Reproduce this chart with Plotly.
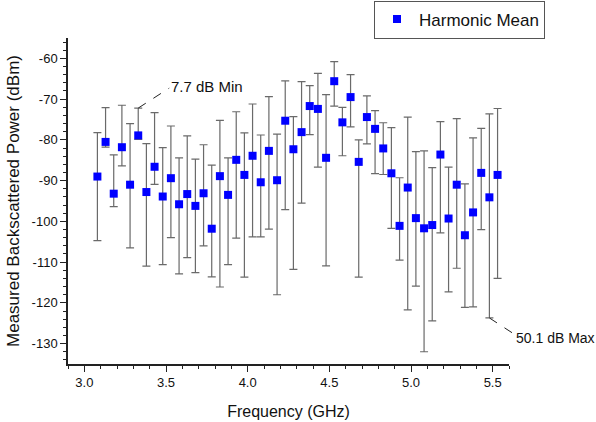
import plotly.graph_objects as go

freq = [3.08, 3.13, 3.18, 3.23, 3.28, 3.33, 3.38, 3.43, 3.48, 3.53,
        3.58, 3.63, 3.68, 3.73, 3.78, 3.83, 3.88, 3.93, 3.98, 4.03,
        4.08, 4.13, 4.18, 4.23, 4.28, 4.33, 4.38, 4.43, 4.48, 4.53,
        4.58, 4.63, 4.68, 4.73, 4.78, 4.83, 4.88, 4.93, 4.98, 5.03,
        5.08, 5.13, 5.18, 5.23, 5.28, 5.33, 5.38, 5.43, 5.48, 5.53]

harmonic_mean = [-89.0, -80.5, -93.2, -81.8, -91.0, -78.9, -92.8, -86.6, -93.9, -89.4,
                 -95.8, -93.3, -96.2, -93.1, -101.8, -88.9, -93.5, -84.9, -88.6, -83.9,
                 -90.4, -82.7, -89.9, -75.3, -82.3, -78.1, -71.7, -72.4, -84.4, -65.6,
                 -75.7, -69.5, -85.4, -74.4, -77.3, -82.1, -88.2, -101.1, -91.7, -99.2,
                 -101.7, -100.9, -83.6, -99.3, -91.0, -103.4, -97.8, -88.1, -94.1, -88.6]

upper = [-78.2, -72.1, -83.7, -71.5, -76.0, -72.2, -80.9, -73.3, -81.9, -76.6,
         -84.4, -79.0, -84.7, -81.2, -86.2, -75.2, -84.4, -73.1, -78.3, -71.2,
         -78.8, -69.4, -78.6, -65.5, -74.3, -65.7, -66.7, -63.7, -68.9, -60.8,
         -72.0, -64.0, -80.0, -69.2, -72.8, -75.8, -77.0, -89.3, -74.4, -82.9,
         -82.7, -86.8, -75.5, -86.7, -74.8, -90.8, -79.5, -77.2, -73.6, -72.3]

lower = [-104.7, -81.8, -96.4, -86.4, -106.5, -79.9, -111.0, -90.9, -110.6, -104.0,
         -112.9, -108.9, -112.6, -106.0, -113.6, -116.1, -110.6, -104.1, -113.7, -103.8,
         -103.8, -101.9, -118.0, -97.1, -111.8, -95.5, -78.7, -86.7, -110.9, -71.7,
         -83.9, -76.8, -113.7, -81.0, -88.3, -88.5, -101.7, -109.5, -121.7, -115.9,
         -132.0, -124.4, -102.8, -117.3, -111.5, -121.1, -121.0, -102.0, -123.7, -114.0]

y_ticks = [-130, -120, -110, -100, -90, -80, -70, -60]
y_tick_labels = ["-130", "-120", "-110", "-100", "-90", "-80", "-70", "-60"]
x_ticks = [3.0, 3.5, 4.0, 4.5, 5.0, 5.5]
x_tick_labels = ["3.0", "3.5", "4.0", "4.5", "5.0", "5.5"]

XR = [2.9, 5.6]
YR = [-135, -55]
FONT = "Liberation Sans, Arial, sans-serif"

err_plus = [u - m for u, m in zip(upper, harmonic_mean)]
err_minus = [m - l for m, l in zip(harmonic_mean, lower)]
ranges = [u - l for u, l in zip(upper, lower)]
i_min = ranges.index(min(ranges))
i_max = ranges.index(max(ranges))

fig = go.Figure()
fig.add_trace(go.Scatter(
    x=freq, y=harmonic_mean, mode="markers", name="Harmonic Mean",
    marker=dict(symbol="square", size=8, color="#0000FF"),
    error_y=dict(type="data", symmetric=False, array=err_plus, arrayminus=err_minus,
                 color="#6a6a6a", thickness=1.2, width=4),
))

# plot area in pixels
L, R, T, B = 68, 87, 38, 58
W = 596 - L - R
H = 422 - T - B


def px(xv, yv):
    return (xv - XR[0]) / (XR[1] - XR[0]), (yv - YR[0]) / (YR[1] - YR[0])


shapes = []
annotations = []
# min annotation
sx, sy = px(freq[i_min], upper[i_min])
shapes.append(dict(type="line", xref="paper", yref="paper", x0=sx, y0=sy,
                   x1=sx + 31 / W, y1=sy + 20 / H,
                   line=dict(color="#222", width=1, dash="dash")))
annotations.append(dict(xref="paper", yref="paper", x=sx + 32 / W, y=sy + 22 / H,
                        text=f"{ranges[i_min]:.1f} dB Min", showarrow=False,
                        xanchor="left", yanchor="middle", xshift=-1,
                        font=dict(family=FONT, size=15, color="#111")))
# max annotation
sx, sy = px(freq[i_max], lower[i_max])
shapes.append(dict(type="line", xref="paper", yref="paper", x0=sx, y0=sy,
                   x1=sx + 23 / W, y1=sy - 15 / H,
                   line=dict(color="#222", width=1, dash="dash")))
annotations.append(dict(xref="paper", yref="paper", x=sx + 26 / W, y=sy - 20 / H,
                        text=f"{ranges[i_max]:.1f} dB Max", showarrow=False,
                        xanchor="left", yanchor="middle", xshift=-1,
                        font=dict(family=FONT, size=14, color="#111")))

fig.update_layout(
    width=596, height=422,
    margin=dict(l=L, r=R, t=T, b=B, autoexpand=False),
    paper_bgcolor="white", plot_bgcolor="white",
    font=dict(family=FONT, color="#111"),
    showlegend=True,
    legend=dict(x=(374 - L) / W, y=(422 - B - 0.5) / H, xanchor="left", yanchor="top",
                bordercolor="#555", borderwidth=1, bgcolor="white",
                font=dict(family=FONT, size=17, color="#111"),
                itemwidth=34, tracegroupgap=0),
    shapes=shapes, annotations=annotations,
    xaxis=dict(range=XR, showgrid=False, zeroline=False,
               showline=True, linecolor="#222", linewidth=1.5,
               ticks="outside", ticklen=6, tickwidth=1.2, tickcolor="#222",
               tickvals=x_ticks, ticktext=x_tick_labels,
               tickfont=dict(family=FONT, size=13, color="#111"),
               minor=dict(dtick=0.1, tick0=2.9, ticks="outside", ticklen=3.5,
                          tickwidth=1, tickcolor="#222", showgrid=False),
               title=dict(text="Frequency (GHz)", standoff=16,
                          font=dict(family=FONT, size=16, color="#111"))),
    yaxis=dict(range=YR, showgrid=False, zeroline=False,
               showline=True, linecolor="#222", linewidth=1.5,
               ticks="outside", ticklen=6, tickwidth=1.2, tickcolor="#222",
               tickvals=y_ticks, ticktext=y_tick_labels,
               tickfont=dict(family=FONT, size=13, color="#111"),
               minor=dict(dtick=2, tick0=-134, ticks="outside", ticklen=3.5,
                          tickwidth=1, tickcolor="#222", showgrid=False),
               title=dict(text="Measured Backscattered Power (dBm)", standoff=8,
                          font=dict(family=FONT, size=17, color="#111"))),
)

fig.write_html("out.html")
